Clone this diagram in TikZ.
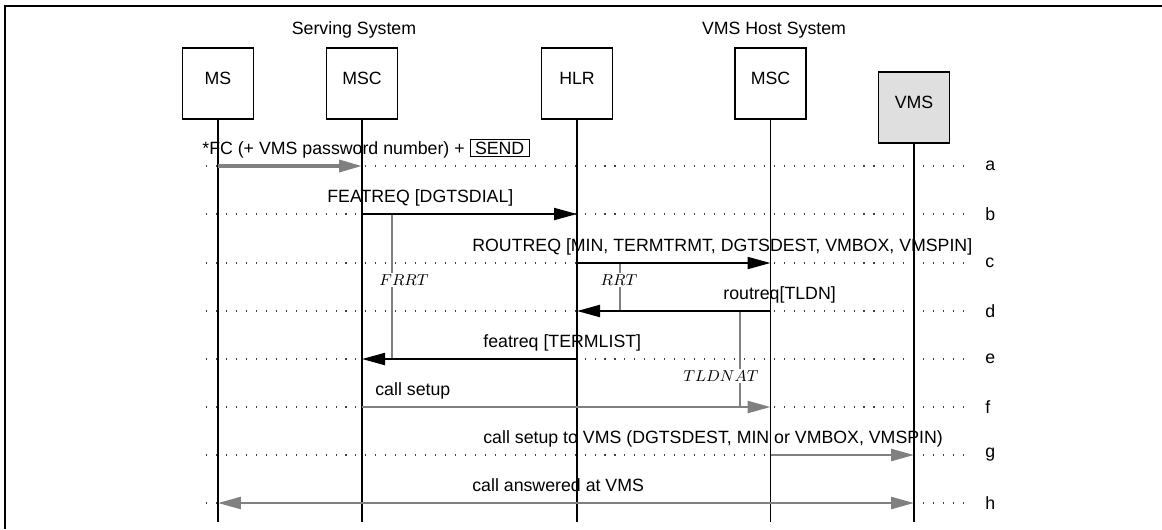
\documentclass[tikz,border=0pt]{standalone}
\usepackage{fontspec}
\setmainfont{Liberation Sans}
\usetikzlibrary{arrows.meta}
\definecolor{msggray}{RGB}{128,128,128}
\definecolor{vmsfill}{RGB}{223,223,223}
\newcommand{\sendkey}[1]{{\setlength{\fboxsep}{1pt}\setlength{\fboxrule}{.6pt}\fbox{\kern1.5pt#1\kern1.5pt}}}

\begin{document}
\begin{tikzpicture}[x=.02cm,y=-.02cm,>={Triangle[length=.46cm,width=.24cm]},
 head/.style={draw,line width=.8pt,minimum width=1.42cm,minimum height=1.42cm,inner sep=0pt,text height=7.3pt,text depth=6.2pt,font=\fontsize{10.1}{12}\selectfont},
 life/.style={line width=1.1pt},
 row/.style={line width=.6pt,black!75,dash pattern=on .6pt off 5.07pt},
 msg/.style={->,line width=1.2pt},
 gmsg/.style={->,draw=msggray,line width=1.4pt},
 timer/.style={draw=msggray,line width=1.1pt},
 lbl/.style={font=\fontsize{10.1}{12}\selectfont,inner sep=0pt,anchor=base west},
 tlbl/.style={fill=white,font=\fontsize{8.8}{10}\selectfont,inner sep=1pt}]
\useasboundingbox (0,0) rectangle (1162,529);
\draw[line width=1.1pt] (1162,6) -- (5,6) -- (5,529);

% system titles and lifeline heads
\node[lbl,anchor=center] (serving) at (354,30) {Serving System};
\node[lbl,anchor=center] (host) at (774,30) {VMS Host System};
\node[head] (ms) at (218,83.5) {MS};
\node[head] (msc) at (362,83.5) {MSC};
\node[head] (hlr) at (577,83.5) {HLR};
\node[head] (mscv) at (770.5,83.5) {MSC};
\node[head,fill=vmsfill] (vms) at (914,107.5) {VMS};
\coordinate (bottom) at (0,522);

% dotted step rows with their letters
\foreach \r/\y in {a/166,b/214,c/263,d/311,e/359,f/407,g/455,h/503}{
 \coordinate (r\r) at (0,\y);
 \draw[row] (206,\y) -- (965,\y);
 \node[lbl,anchor=west] (l\r) at (985,\y) {\r};
}
\foreach \n in {ms,msc,hlr,mscv,vms}
 \draw[life] (\n.south) -- (\n.south |- bottom);

% timers
\draw[timer] (392,215) -- (392,359);
\draw[timer] (620,264) -- (620,311);
\draw[timer] (740,312) -- (740,407);
\node[tlbl] (frrt) at (404,280) {$FRRT$};
\node[tlbl] (rrt) at (619,280) {$RRT$};
\node[tlbl] (tldnat) at (721,376) {$TLDNAT$};

% messages
\draw[gmsg,line width=2pt] (ms |- ra) -- (msc |- ra);
\draw[msg] (msc |- rb) -- (hlr |- rb);
\draw[msg] (hlr |- rc) -- (mscv |- rc);
\draw[msg] (mscv |- rd) -- (hlr |- rd);
\draw[msg] (hlr |- re) -- (msc |- re);
\draw[gmsg] (msc |- rf) -- (mscv |- rf);
\draw[gmsg] (mscv |- rg) -- (vms |- rg);
\draw[gmsg,<->] (ms |- rh) -- (vms |- rh);
\node[lbl] (ta) at (202,154) {*FC (+ VMS password number) + \sendkey{SEND}};
\node[lbl] (tb) at (327,202) {FEATREQ [DGTSDIAL]};
\node[lbl] (tc) at (472,251) {ROUTREQ [MIN, TERMTRMT, DGTSDEST, VMBOX, VMSPIN]};
\node[lbl] (td) at (723,299) {routreq[TLDN]};
\node[lbl] (te) at (483,347) {featreq [TERMLIST]};
\node[lbl] (tf) at (375,395) {call setup};
\node[lbl] (tg) at (483,443) {call setup to VMS (DGTSDEST, MIN or VMBOX, VMSPIN)};
\node[lbl] (th) at (472,491) {call answered at VMS};
\end{tikzpicture}
\end{document}
